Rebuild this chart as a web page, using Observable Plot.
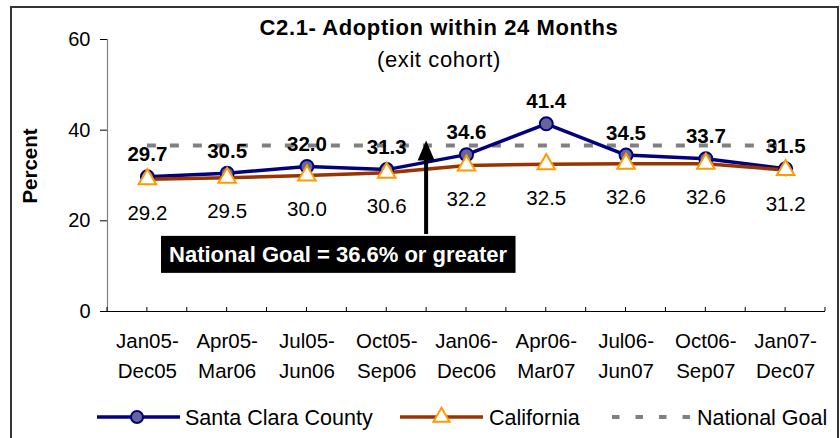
<!DOCTYPE html>
<html><head><meta charset="utf-8">
<script src="https://cdn.jsdelivr.net/npm/d3@7"></script>
<script src="https://cdn.jsdelivr.net/npm/@observablehq/plot@0.6"></script>
<style>
body{margin:0;background:#fff;font-family:"Liberation Sans",Arial,sans-serif;}
#wrap{position:relative;width:840px;height:438px;overflow:hidden;background:#fff;}
#frame{position:absolute;left:10px;top:6px;width:825px;height:470px;border:2px solid #333;border-bottom:none;}
#chart{position:absolute;left:0;top:0;}
</style></head><body>
<div id="wrap"><div id="frame"></div><div id="chart"></div></div>
<script>
// ---- data ----
const categories = ["Jan05-\nDec05","Apr05-\nMar06","Jul05-\nJun06","Oct05-\nSep06","Jan06-\nDec06","Apr06-\nMar07","Jul06-\nJun07","Oct06-\nSep07","Jan07-\nDec07"];
const santaClara = [29.7, 30.5, 32.0, 31.3, 34.6, 41.4, 34.5, 33.7, 31.5];
const california = [29.2, 29.5, 30.0, 30.6, 32.2, 32.5, 32.6, 32.6, 31.2];
const nationalGoal = 36.6;
const yTicks = [0, 20, 40, 60];
const seriesNames = ["Santa Clara County", "California", "National Goal"];
const titleText = "C2.1- Adoption within 24 Months";
const subtitleText = "(exit cohort)";
const yLabel = "Percent";
const goalNote = "National Goal = 36.6% or greater";

// annotation anchors (category-index / value units)
const noteX = 2.39, noteY = 12.5;
const arrowX = 3.5, arrowTop = 37.6, arrowBottom = 17;

const FONT = '"Liberation Sans", Arial, sans-serif';
const NAVY = "#000080", BROWN = "#993300", ORANGE = "#FF9900", GRAY = "#808080";

const sc = santaClara.map((v, i) => ({i, v}));
const ca = california.map((v, i) => ({i, v}));
const idx = categories.map((c, i) => i);
const n = categories.length;
const halfTicks = d3.range(-0.5, n, 0.5);

const xTickMarks = (index, {x, y}) => {
  const g = d3.create("svg:g").attr("stroke", "#000").attr("stroke-width", 1);
  for (const t of halfTicks) g.append("line").attr("x1", x(t)).attr("x2", x(t)).attr("y1", y(0)).attr("y2", y(0) - 4);
  return g.node();
};

const arrowMark = (index, {x, y}) => {
  const ax = x(arrowX), top = y(arrowTop), bot = y(arrowBottom);
  const hh = 20, hw = 8.5, sw = 2;
  return d3.create("svg:path")
    .attr("fill", "#000")
    .attr("d", `M${ax - sw},${bot}L${ax - sw},${top + hh}L${ax - hw},${top + hh}L${ax},${top}L${ax + hw},${top + hh}L${ax + sw},${top + hh}L${ax + sw},${bot}Z`)
    .node();
};

const plot = Plot.plot({
  width: 840, height: 438,
  marginLeft: 107, marginRight: 15, marginTop: 39, marginBottom: 127,
  style: {fontFamily: FONT, fontSize: "20px", background: "transparent", color: "#000", overflow: "visible"},
  x: {domain: [-0.5, n - 0.5], axis: null},
  y: {domain: [0, 60], ticks: yTicks, tickSize: 7, tickPadding: 10, label: null},
  marks: [
    Plot.ruleX([-0.5], {y1: 0, y2: 60, stroke: GRAY, strokeWidth: 1.2}),
    Plot.ruleY([0], {x1: -0.5, x2: n - 0.5, stroke: "#000", strokeWidth: 1.2}),
    xTickMarks,
    Plot.text(idx, {x: d => d, y: 0, text: i => categories[i], dy: 42, lineHeight: 1.48, fontSize: 20.5}),
    Plot.ruleY([nationalGoal], {x1: 0, x2: n - 1, stroke: GRAY, strokeWidth: 4, strokeDasharray: "9,14"}),
    Plot.line(sc, {x: "i", y: "v", stroke: NAVY, strokeWidth: 3.5}),
    Plot.line(ca, {x: "i", y: "v", stroke: BROWN, strokeWidth: 3.5}),
    Plot.dot(sc, {x: "i", y: "v", r: 6.5, fill: "#666699", stroke: NAVY, strokeWidth: 2}),
    Plot.dot(ca, {x: "i", y: "v", symbol: "triangle", r: 6.5, fill: "#fff", stroke: ORANGE, strokeWidth: 2}),
    Plot.text(sc, {x: "i", y: "v", text: d => d.v.toFixed(1), dy: -22, fontWeight: "bold", fontSize: 20.5}),
    Plot.text(ca, {x: "i", y: "v", text: d => d.v.toFixed(1), dy: 34, fontSize: 20.5}),
    arrowMark,
    Plot.text([goalNote], {x: () => noteX, y: () => noteY, text: d => d, fill: "#fff", fontWeight: "bold", fontSize: 22, className: "goal-note"})
  ]
});

document.getElementById("chart").appendChild(plot);
const svg = d3.select(plot);

// black box behind note
svg.selectAll(".goal-note text").each(function () {
  const bb = this.getBBox();
  d3.select(this.parentNode).insert("rect", () => this)
    .attr("transform", this.getAttribute("transform"))
    .attr("x", bb.x - 8).attr("y", bb.y - 6).attr("width", bb.width + 16).attr("height", bb.height + 12)
    .attr("fill", "#000");
});

// titles
const ann = svg.append("g").attr("font-family", FONT).attr("fill", "#000");
ann.append("text").attr("x", 439).attr("y", 35).attr("text-anchor", "middle")
  .attr("font-weight", "bold").attr("font-size", 22).attr("letter-spacing", "0.6px").text(titleText);
ann.append("text").attr("x", 439).attr("y", 67).attr("text-anchor", "middle")
  .attr("font-size", 22).attr("letter-spacing", "0.6px").text(subtitleText);
ann.append("text").attr("transform", "translate(30,166) rotate(-90)").attr("text-anchor", "middle")
  .attr("dy", "0.35em").attr("font-weight", "bold").attr("font-size", 20.5).text(yLabel);

// legend
const lg = svg.append("g").attr("font-family", FONT).attr("font-size", 21.5).attr("text-anchor", "start");
const ly = 417;
const items = [
  {name: seriesNames[0], x0: 97, x1: 180, tx: 185, stroke: NAVY, marker: "circle"},
  {name: seriesNames[1], x0: 400, x1: 483, tx: 489, stroke: BROWN, marker: "triangle"},
  {name: seriesNames[2], x0: 612, x1: 690, tx: 697, stroke: GRAY, marker: null, dash: "7.5,16"}
];
for (const it of items) {
  const l = lg.append("line").attr("x1", it.x0).attr("x2", it.x1).attr("y1", ly).attr("y2", ly)
    .attr("stroke", it.stroke).attr("stroke-width", it.dash ? 4 : 3.5);
  if (it.dash) l.attr("stroke-dasharray", it.dash);
  const cx = (it.x0 + it.x1) / 2;
  if (it.marker === "circle") lg.append("circle").attr("cx", cx - 1.5).attr("cy", ly).attr("r", 6)
    .attr("fill", "#666699").attr("stroke", NAVY).attr("stroke-width", 2);
  if (it.marker === "triangle") lg.append("path").attr("transform", `translate(${cx},${ly})`)
    .attr("d", d3.symbol(d3.symbolTriangle, Math.PI * 6 * 6)())
    .attr("fill", "#fff").attr("stroke", ORANGE).attr("stroke-width", 2);
  lg.append("text").attr("x", it.tx).attr("y", ly).attr("dy", "0.35em").text(it.name);
}
</script>
</body></html>
